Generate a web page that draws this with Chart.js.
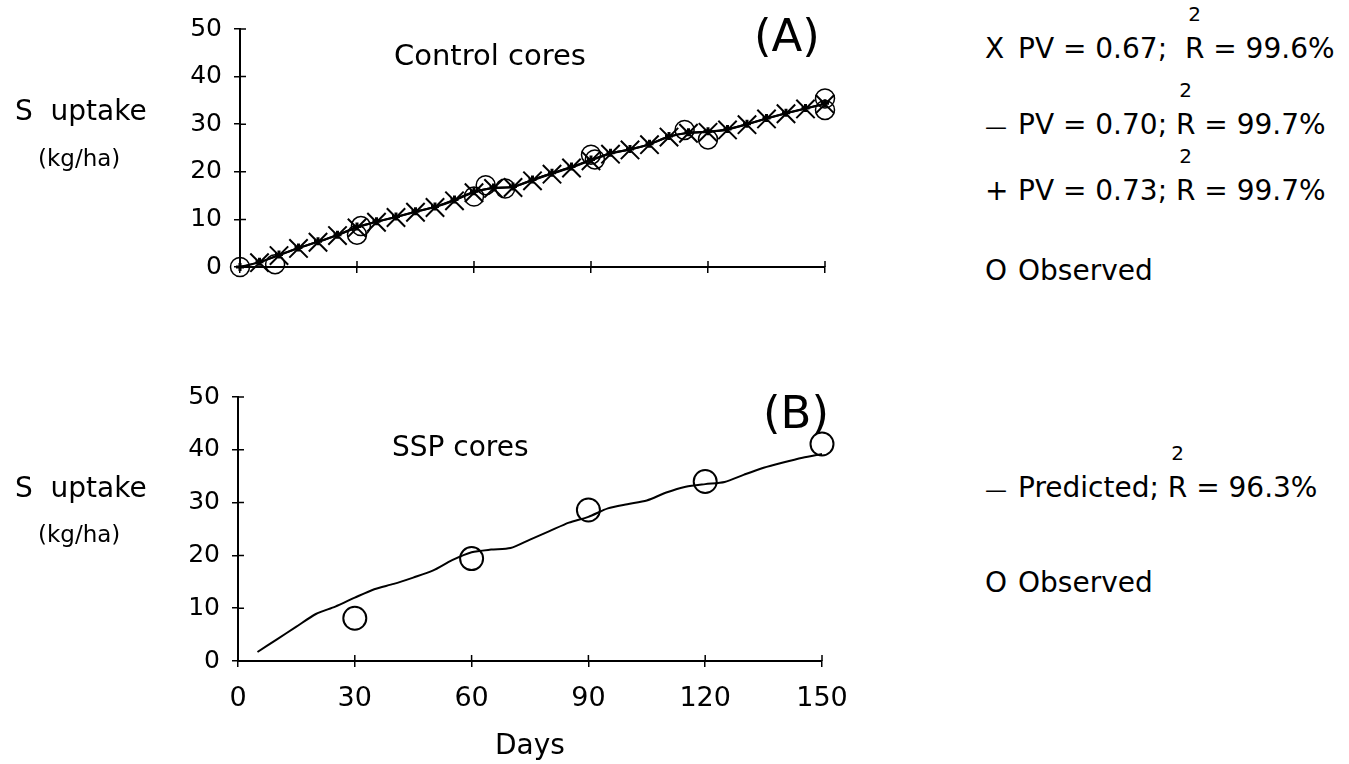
<!DOCTYPE html>
<html>
<head>
<meta charset="utf-8">
<title>S uptake – Control and SSP cores</title>
<script src="https://cdn.jsdelivr.net/npm/chart.js@4.4.0/dist/chart.umd.min.js"></script>
<style>
  html, body { margin: 0; padding: 0; background: #fff; }
  #page { position: relative; width: 1349px; height: 764px; overflow: hidden;
          font-family: 'DejaVu Sans', sans-serif; color: #000; }
  canvas { position: absolute; left: 0; }
  #cA { top: 0; }
  #cB { top: 370px; }
  .lbl { position: absolute; white-space: nowrap; line-height: 1; }
  .r { position: relative; }
  .sq { position: absolute; left: 50%; transform: translateX(-50%); top: -28px;
        font-size: 20px; line-height: 1; }
  .mk { display: inline-block; width: 33px; }
  .dash { display: inline-block; width: 33px; font-size: 22px; }
</style>
</head>
<body>
<div id="page">
  <canvas id="cA" width="900" height="300"></canvas>
  <canvas id="cB" width="900" height="394"></canvas>

  <!-- panel A texts -->
  <div class="lbl" style="left:15px; top:97px; font-size:28px;">S&nbsp;&nbsp;uptake</div>
  <div class="lbl" style="left:38px; top:147px; font-size:23px;">(kg/ha)</div>
  <div class="lbl" style="left:394px; top:41px; font-size:29px;">Control cores</div>
  <div class="lbl" style="left:754px; top:13px; font-size:45px;">(A)</div>

  <div class="lbl" style="left:985px; top:35px; font-size:28px;"><span class="mk">X</span>PV = 0.67;&nbsp; <span class="r">R<span class="sq">2</span></span> = 99.6%</div>
  <div class="lbl" style="left:985px; top:111px; font-size:28px;"><span class="dash">—</span>PV = 0.70; <span class="r">R<span class="sq">2</span></span> = 99.7%</div>
  <div class="lbl" style="left:985px; top:177px; font-size:28px;"><span class="mk">+</span>PV = 0.73; <span class="r">R<span class="sq">2</span></span> = 99.7%</div>
  <div class="lbl" style="left:985px; top:257px; font-size:28px;"><span class="mk">O</span>Observed</div>

  <!-- panel B texts -->
  <div class="lbl" style="left:15px; top:474px; font-size:28px;">S&nbsp;&nbsp;uptake</div>
  <div class="lbl" style="left:38px; top:523px; font-size:23px;">(kg/ha)</div>
  <div class="lbl" style="left:392px; top:433px; font-size:28px;">SSP cores</div>
  <div class="lbl" style="left:763px; top:390px; font-size:45px;">(B)</div>

  <div class="lbl" style="left:985px; top:474px; font-size:28px;"><span class="dash">—</span>Predicted; <span class="r">R<span class="sq">2</span></span> = 96.3%</div>
  <div class="lbl" style="left:985px; top:569px; font-size:28px;"><span class="mk">O</span>Observed</div>
</div>

<script>
// ---- Control cores (A): predicted S uptake for three PV values, kg/ha ----
const daysA  = [0, 5, 10, 15, 20, 25, 30, 35, 40, 45, 50, 55, 60, 65, 70, 75,
                80, 85, 90, 95, 100, 105, 110, 115, 120, 125, 130, 135, 140, 145, 150];
const daysX  = [5, 10, 15, 20, 25, 30, 35, 40, 45, 50, 55, 60, 65, 70, 75,
                80, 85, 90, 95, 100, 105, 110, 115, 120, 125, 130, 135, 140, 145, 150];
const pv067  = [0.9, 2.4, 3.9, 5.2, 6.6, 8.2, 9.4, 10.4, 11.5, 12.5, 13.9, 15.6, 16.5, 16.7, 18.1,
                19.5, 20.8, 22.3, 23.7, 24.6, 25.7, 27.3, 28.1, 28.3, 28.8, 29.9, 31.1, 32.2, 33.2, 34.2];
const pv070  = [0, 1.0, 2.5, 4.0, 5.3, 6.7, 8.4, 9.5, 10.5, 11.6, 12.6, 14.1, 15.8, 16.6, 16.8, 18.3,
                19.7, 21.0, 22.5, 23.9, 24.7, 25.8, 27.4, 28.2, 28.4, 28.9, 30.0, 31.2, 32.3, 33.3, 34.3];
const pv073  = [0, 1.1, 2.6, 4.1, 5.4, 6.8, 8.5, 9.6, 10.6, 11.7, 12.7, 14.2, 15.9, 16.7, 16.9, 18.4,
                19.8, 21.1, 22.6, 24.0, 24.8, 25.9, 27.5, 28.3, 28.5, 29.0, 30.1, 31.3, 32.4, 33.4, 34.4];
const obsDaysA = [0, 9, 30, 31, 60, 63, 68, 90, 91, 114, 120, 150, 150];
const obsA     = [0, 0.6, 6.8, 8.6, 14.8, 17.2, 16.5, 23.6, 22.6, 28.8, 26.8, 35.4, 33.0];

// ---- SSP cores (B): predicted and observed S uptake, kg/ha ----
const daysB  = [5, 10, 15, 20, 25, 30, 35, 40, 45, 50, 55, 60, 65, 70, 75,
                80, 85, 90, 95, 100, 105, 110, 115, 120, 125, 130, 135, 140, 145, 150];
const predB  = [1.7, 4.1, 6.5, 8.9, 10.3, 12.0, 13.6, 14.6, 15.8, 17.1, 19.1, 20.6, 21.1, 21.4, 23.0,
                24.6, 26.2, 27.3, 28.9, 29.7, 30.4, 31.9, 33.0, 33.5, 33.9, 35.3, 36.6, 37.6, 38.5, 39.2];
const obsDaysB = [30, 60, 90, 120, 150];
const obsB     = [8.1, 19.4, 28.6, 34.0, 41.1];

// ---- axis ticks ----
const dayTicks    = [0, 30, 60, 90, 120, 150];
const uptakeTicks = [0, 10, 20, 30, 40, 50];

Chart.defaults.font.family = "'DejaVu Sans', sans-serif";
Chart.defaults.color = '#000';

const pts = (xs, ys) => xs.map((x, i) => ({ x: x, y: ys[i] }));

// short tick stubs on the inner side of both axes, so every tick crosses its axis
const crossTicks = {
  id: 'crossTicks',
  beforeDatasetsDraw(chart) {
    const { ctx, chartArea, scales } = chart;
    ctx.save();
    ctx.strokeStyle = '#000';
    ctx.lineWidth = 1.5;
    ctx.beginPath();
    scales.x.ticks.forEach(t => {
      if (t.value === 0) return;
      const px = scales.x.getPixelForValue(t.value);
      ctx.moveTo(px, chartArea.bottom);
      ctx.lineTo(px, chartArea.bottom - 6);
    });
    scales.y.ticks.forEach(t => {
      if (t.value === 0) return;
      const py = scales.y.getPixelForValue(t.value);
      ctx.moveTo(chartArea.left, py);
      ctx.lineTo(chartArea.left + 6, py);
    });
    ctx.stroke();
    ctx.restore();
  }
};

const gridOpts = { drawOnChartArea: false, drawTicks: true, tickLength: 6, color: '#000', lineWidth: 1.5 };
const borderOpts = { color: '#000', width: 2 };

function xScale(showLabels, boxHeight, withTitle) {
  return {
    type: 'linear', min: 0, max: 150,
    afterBuildTicks(s) { s.ticks = dayTicks.map(v => ({ value: v })); },
    afterFit(s) { s.height = boxHeight; },
    ticks: { display: showLabels, color: '#000', font: { size: 27 }, padding: 16, maxRotation: 0 },
    grid: gridOpts,
    border: borderOpts,
    title: withTitle
      ? { display: true, text: 'Days', color: '#000', font: { size: 28 }, padding: { top: 0, bottom: 0 } }
      : { display: false }
  };
}

function yScale(boxWidth) {
  return {
    type: 'linear', min: 0, max: 50,
    afterBuildTicks(s) { s.ticks = uptakeTicks.map(v => ({ value: v })); },
    afterFit(s) { s.width = boxWidth; },
    ticks: { color: '#000', font: { size: 25 }, padding: 12 },
    grid: gridOpts,
    border: borderOpts
  };
}

function baseOptions(padding, xs, ys) {
  return {
    responsive: false,
    animation: false,
    events: [],
    layout: { padding: padding },
    plugins: { legend: { display: false }, tooltip: { enabled: false } },
    scales: { x: xs, y: ys }
  };
}

// Panel A – control cores
new Chart(document.getElementById('cA'), {
  type: 'scatter',
  data: {
    datasets: [
      { label: 'PV = 0.70', data: pts(daysA, pv070), showLine: true, clip: false,
        borderColor: '#000', borderWidth: 2, pointRadius: 0, tension: 0.15 },
      { label: 'PV = 0.67', data: pts(daysX, pv067), showLine: true, clip: false,
        borderColor: '#000', borderWidth: 1.2, tension: 0.15,
        pointStyle: 'crossRot', pointRadius: 13, pointBorderWidth: 2,
        pointBorderColor: '#000', pointBackgroundColor: '#000' },
      { label: 'PV = 0.73', data: pts(daysA, pv073), showLine: true, clip: false,
        borderColor: '#000', borderWidth: 1.2, tension: 0.15,
        pointStyle: 'cross', pointRadius: 4, pointBorderWidth: 3,
        pointBorderColor: '#000', pointBackgroundColor: '#000' },
      { label: 'Observed', data: pts(obsDaysA, obsA), showLine: false, clip: false,
        pointStyle: 'circle', pointRadius: 9.5, pointBorderWidth: 1.5,
        pointBorderColor: '#000', pointBackgroundColor: 'rgba(0,0,0,0)' }
    ]
  },
  options: baseOptions({ left: 0, top: 29, right: 75, bottom: 0 }, xScale(false, 33, false), yScale(240)),
  plugins: [crossTicks]
});

// Panel B – SSP cores
new Chart(document.getElementById('cB'), {
  type: 'scatter',
  data: {
    datasets: [
      { label: 'Predicted', data: pts(daysB, predB), showLine: true, clip: false,
        borderColor: '#000', borderWidth: 2, pointRadius: 0, tension: 0.25 },
      { label: 'Observed', data: pts(obsDaysB, obsB), showLine: false, clip: false,
        pointStyle: 'circle', pointRadius: 11.5, pointBorderWidth: 2,
        pointBorderColor: '#000', pointBackgroundColor: 'rgba(0,0,0,0)' }
    ]
  },
  options: baseOptions({ left: 0, top: 20, right: 78, bottom: 0 }, xScale(true, 103, true), yScale(238)),
  plugins: [crossTicks]
});
</script>
</body>
</html>
